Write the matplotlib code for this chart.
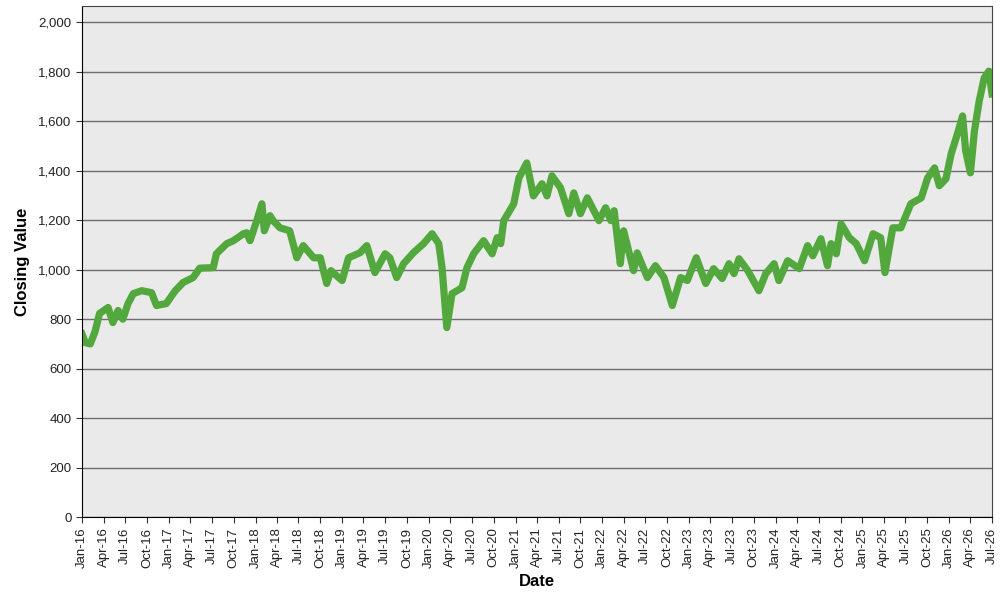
import numpy as np
import pandas as pd
import matplotlib
matplotlib.use("Agg")
import matplotlib.pyplot as plt
import matplotlib.dates as mdates
from matplotlib.ticker import FuncFormatter, MultipleLocator

plt.rcParams["font.family"] = ["Liberation Sans", "DejaVu Sans"]

# values
dates = [
    "2016-01-01", "2016-01-15", "2016-02-05", "2016-02-25", "2016-03-15", "2016-04-20",
    "2016-05-10", "2016-06-01", "2016-06-21", "2016-07-13", "2016-08-04", "2016-09-09",
    "2016-10-20", "2016-11-10", "2016-12-21", "2017-01-28", "2017-03-02", "2017-04-13",
    "2017-05-11", "2017-07-07", "2017-07-20", "2017-09-02", "2017-09-30", "2017-11-11",
    "2017-11-25", "2017-12-09", "2018-01-07", "2018-01-28", "2018-02-07", "2018-03-03",
    "2018-03-16", "2018-04-14", "2018-05-25", "2018-06-24", "2018-07-21", "2018-09-03",
    "2018-10-01", "2018-10-28", "2018-11-15", "2018-12-03", "2019-01-01", "2019-01-28",
    "2019-03-17", "2019-04-15", "2019-05-19", "2019-07-01", "2019-07-21", "2019-08-19",
    "2019-09-17", "2019-10-28", "2019-12-10", "2020-01-15", "2020-02-12", "2020-02-26",
    "2020-03-17", "2020-04-08", "2020-05-20", "2020-06-10", "2020-07-08", "2020-08-19",
    "2020-09-24", "2020-10-15", "2020-10-30", "2020-11-12", "2020-12-24", "2021-01-15",
    "2021-02-17", "2021-03-17", "2021-04-22", "2021-05-13", "2021-06-03", "2021-07-09",
    "2021-08-13", "2021-09-03", "2021-10-01", "2021-10-30", "2021-12-18", "2022-01-15",
    "2022-02-06", "2022-02-20", "2022-03-18", "2022-04-01", "2022-05-13", "2022-05-28",
    "2022-07-10", "2022-08-13", "2022-09-18", "2022-10-23", "2022-11-27", "2022-12-25",
    "2023-02-01", "2023-02-21", "2023-03-13", "2023-04-15", "2023-05-21", "2023-06-19",
    "2023-07-10", "2023-07-31", "2023-09-06", "2023-10-23", "2023-11-21", "2023-12-26",
    "2024-01-15", "2024-02-21", "2024-04-10", "2024-05-15", "2024-06-06", "2024-07-10",
    "2024-08-07", "2024-08-22", "2024-09-13", "2024-10-03", "2024-11-07", "2024-12-06",
    "2025-01-10", "2025-02-15", "2025-03-19", "2025-04-06", "2025-05-09", "2025-06-12",
    "2025-07-24", "2025-09-06", "2025-10-03", "2025-11-01", "2025-11-21", "2025-12-19",
    "2026-01-10", "2026-02-09", "2026-02-27", "2026-03-12", "2026-04-01", "2026-04-18",
    "2026-05-08", "2026-05-29", "2026-06-18", "2026-07-01",
]
closing = [
    740, 705, 700, 750, 823, 847,
    786, 835, 800, 863, 903, 915,
    907, 855, 863, 915, 948, 968,
    1006, 1008, 1064, 1105, 1117, 1145,
    1149, 1117, 1200, 1266, 1157, 1218,
    1198, 1169, 1157, 1048, 1097, 1048,
    1048, 944, 996, 980, 956, 1048,
    1068, 1097, 988, 1064, 1048, 968,
    1024, 1068, 1105, 1145, 1105, 1008,
    766, 903, 927, 1008, 1064, 1117,
    1064, 1129, 1105, 1198, 1266, 1371,
    1431, 1298, 1347, 1298, 1379, 1331,
    1226, 1310, 1226, 1290, 1198, 1250,
    1198, 1238, 1024, 1157, 996, 1068,
    968, 1016, 968, 855, 968, 956,
    1048, 996, 944, 1004, 964, 1024,
    984, 1044, 996, 915, 984, 1024,
    956, 1036, 1004, 1097, 1056, 1125,
    1016, 1105, 1064, 1185, 1129, 1105,
    1036, 1145, 1129, 988, 1169, 1169,
    1266, 1290, 1371, 1411, 1339, 1367,
    1468, 1560, 1621, 1480, 1391, 1560,
    1681, 1774, 1802, 1710,
]

x = pd.to_datetime(dates)

fig = plt.figure(figsize=(10, 6), dpi=100)
ax = fig.add_axes([0.082, 0.138, 0.910, 0.852])
ax.set_facecolor("#EAEAEA")

ax.plot(x, closing, color="#52A83C", linewidth=5.2, solid_joinstyle="round")

ax.set_xlim(pd.Timestamp("2016-01-01"), pd.Timestamp("2026-07-01"))
ax.set_ylim(0, 2065)
ax.yaxis.set_major_locator(MultipleLocator(200))
ax.yaxis.set_major_formatter(FuncFormatter(lambda v, _: f"{v:,.0f}"))
ax.xaxis.set_major_locator(mdates.MonthLocator(bymonth=[1, 4, 7, 10]))
ax.xaxis.set_major_formatter(mdates.DateFormatter("%b-%y"))
plt.setp(ax.get_xticklabels(), rotation=90)

ax.grid(axis="y", color="#6E6E6E", linewidth=1)
ax.set_axisbelow(True)
ax.tick_params(labelsize=9.5, length=4, color="#333333", labelcolor="#222222")

for side in ("left", "bottom"):
    ax.spines[side].set_color("black")
for side in ("top", "right"):
    ax.spines[side].set_color("#444444")

ax.set_xlabel("Date", fontsize=12, fontweight="bold", labelpad=4)
ax.set_ylabel("Closing Value", fontsize=12, fontweight="bold", labelpad=6)

fig.savefig("out.png", dpi=100)
